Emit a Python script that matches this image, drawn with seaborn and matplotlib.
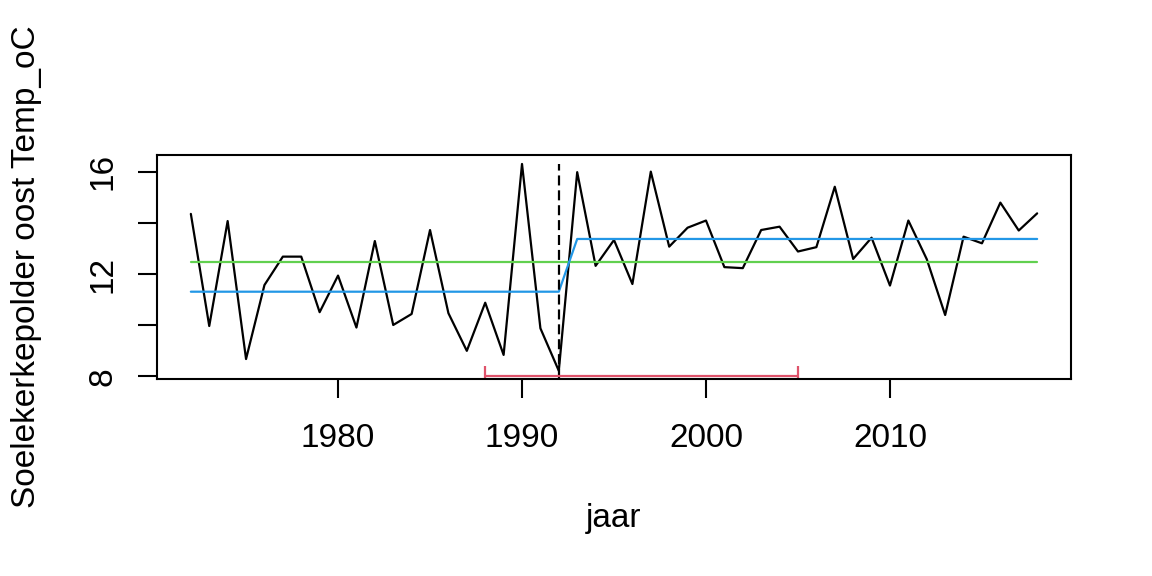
import matplotlib
matplotlib.use("Agg")
import matplotlib.pyplot as plt
import pandas as pd
import seaborn as sns

# Data
years = list(range(1972, 2019))
temp = [14.35, 9.97, 14.07, 8.68, 11.57, 12.68, 12.68, 10.51, 11.94, 9.91,
        13.29, 10.01, 10.44, 13.72, 10.47, 9.00, 10.88, 8.84, 16.30, 9.88,
        8.22, 15.98, 12.32, 13.33, 11.61, 16.00, 13.07, 13.81, 14.09, 12.27,
        12.23, 13.72, 13.85, 12.88, 13.05, 15.41, 12.59, 13.42, 11.55, 14.09,
        12.58, 10.40, 13.46, 13.20, 14.79, 13.70, 14.37]

mean_all = 12.48
change_year = 1992
mean_before = 11.31
mean_after = 13.37
ci_low, ci_high = 1988, 2005
ci_level = 8.03

step_x = [1972, change_year, change_year + 1, 2018]
step_y = [mean_before, mean_before, mean_after, mean_after]

df = pd.DataFrame({"jaar": years, "temp": temp})

sns.set_style("white")
plt.rcParams["font.family"] = ["Liberation Sans", "DejaVu Sans"]
plt.rcParams["font.size"] = 24
plt.rcParams["text.color"] = "black"
plt.rcParams["axes.labelcolor"] = "black"
plt.rcParams["xtick.color"] = "black"
plt.rcParams["ytick.color"] = "black"

fig = plt.figure(figsize=(11.52, 5.76), dpi=100)
ax = fig.add_axes([157 / 1152, 1 - 379 / 576, (1071 - 157) / 1152, (379 - 155) / 576])

sns.lineplot(data=df, x="jaar", y="temp", color="black", linewidth=1.6, ax=ax)
ax.plot([years[0], years[-1]], [mean_all, mean_all], color="#61D04F", linewidth=1.6)
ax.plot(step_x, step_y, color="#2297E6", linewidth=1.6)
ax.plot([change_year, change_year], [7.9, max(temp)], color="black",
        linewidth=1.6, linestyle=(0, (4.5, 2.2)))
ax.errorbar([(ci_low + ci_high) / 2], [ci_level],
            xerr=[[(ci_high - ci_low) / 2], [(ci_high - ci_low) / 2]],
            color="#DF536B", linewidth=1.6, capsize=7, capthick=1.6, fmt="none")

ax.set_xlim(1970.16, 2019.84)
ax.set_ylim(7.90, 16.65)
ax.set_xticks([1980, 1990, 2000, 2010])
ax.set_yticks([8, 10, 12, 14, 16])
ax.set_yticklabels(["8", "", "12", "", "16"], rotation=90, va="center")
ax.tick_params(axis="both", direction="out", length=14, width=1.5,
               color="black", labelcolor="black", labelsize=24,
               left=True, bottom=True)
ax.tick_params(axis="x", pad=18)
ax.tick_params(axis="y", pad=14)

for s in ax.spines.values():
    s.set_color("black")
    s.set_linewidth(1.5)
    s.set_visible(True)

ax.set_xlabel("jaar", fontsize=24, color="black")
ax.set_ylabel("Soelekerkepolder oost Temp_oC", fontsize=24, color="black")
ax.xaxis.set_label_coords(0.5, (379 - 518) / 224)
ax.xaxis.label.set_va("center")
ax.yaxis.set_label_coords((27 - 157) / 914, 0.5)
ax.yaxis.label.set_va("center")

fig.savefig("out.png", dpi=100)
